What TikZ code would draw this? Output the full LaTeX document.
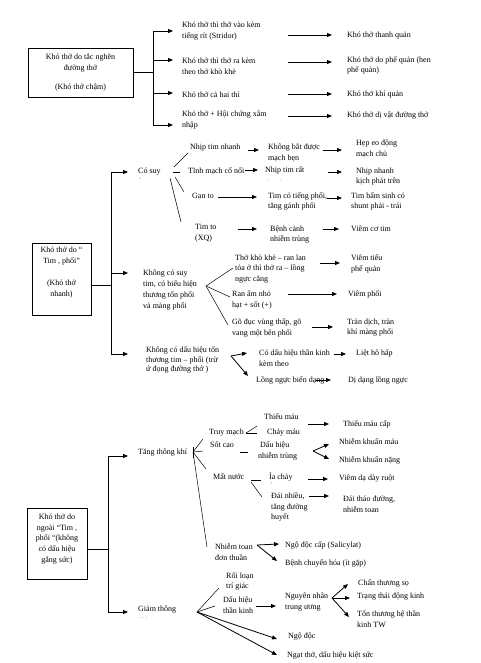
\documentclass[tikz,border=0pt]{standalone}
\usepackage{fontspec}
\setmainfont{Liberation Serif}
\usetikzlibrary{arrows.meta}
\newcommand\fsz{\fontsize{8}{10.8}\selectfont}
\tikzset{
 txt/.style={anchor=west, align=left, inner sep=0pt, font=\fsz},
 boxtxt/.style={align=center, inner sep=0pt, font=\fsz},
 box/.style={draw, line width=0.8pt, inner sep=0pt, align=center, font=\fsz},
 ln/.style={line width=0.5pt},
 arr/.style={line width=0.8pt, -{Triangle[length=5pt,width=4pt]}},
 tinytxt/.style={inner sep=0pt, font=\fontsize{5}{5}\selectfont},
}
\begin{document}
\begin{tikzpicture}[x=1pt,y=-1pt]
\fill[white] (0,0) rectangle (480,663);
\useasboundingbox (0,0) rectangle (480,663);

% ---------------- Section 1
\node[box, minimum width=105pt, minimum height=49pt] (b1) at (80.5,72.5) {Khó thở do tắc nghẽn\\đường thở\\[9pt](Khó thở chậm)};
\node[txt] (c11) at (182,31) {Khó thở thì thở vào kèm\\tiếng rít (Stridor)};
\node[txt] (c12) at (182,66) {Khó thở thì thở ra kèm\\theo thở khò khè};
\node[txt] (c13) at (182,95) {Khó thở cả hai thì};
\node[txt] (c14) at (182,120) {Khó thở + Hội chứng xâm\\nhập};
\node[txt] (r11) at (347,36) {Khó thở thanh quản};
\node[txt] (r12) at (347,65.5) {Khó thở do phế quản (hen\\phế quản)};
\node[txt] (r13) at (347,95) {Khó thở khí quản};
\node[txt] (r14) at (347,116) {Khó thở dị vật đường thở};

\draw[arr] (b1.east) -- ++(20,0) |- ([shift={(-9,0)}]c11.west);
\draw[arr] (b1.east) -- ++(20,0) |- ([shift={(-9,-6)}]c12.west);
\draw[arr] (b1.east) -- ++(20,0) |- ([shift={(-9,-2)}]c13.west);
\draw[arr] (b1.east) -- ++(20,0) |- ([shift={(-9,5)}]c14.west);
\draw[arr] ([shift={(-59,-1)}]r11.west) -- ([shift={(-15,-1)}]r11.west);
\draw[arr] ([shift={(-59,-3.5)}]r12.west) -- ([shift={(-15,-3.5)}]r12.west);
\draw[arr] ([shift={(-59,-1)}]r13.west) -- ([shift={(-15,-1)}]r13.west);
\draw[arr] ([shift={(-59,0)}]r14.west) -- ([shift={(-15,0)}]r14.west);

% ---------------- Section 2
\node[box, minimum width=59pt, minimum height=72pt] (b2) at (61.5,279) {};
\node[boxtxt] (b2t) at (61.5,272.5) {Khó thở do “\\Tim , phổi”\\[12pt](Khó thở\\nhanh)};

\node[txt] (cs) at (138,172) {Có suy};
\node[tinytxt] (csd) at (140,179) {,};
\node[txt] (n1) at (190,148) {Nhịp tim nhanh};
\node[txt] (n2) at (188,171) {Tĩnh mạch cổ nổi};
\node[txt] (n3) at (192,196) {Gan to};
\node[txt] (n4) at (195,233) {Tim to\\(XQ)};
\node[txt] (m1) at (268,152.5) {Không bắt được\\mạch bẹn};
\node[txt] (m2) at (265,170) {Nhịp tim rất};
\node[tinytxt] (m2d) at (274.5,180) {.\hspace{10pt}.};
\node[txt] (m3) at (268,201.5) {Tim có tiếng phổi,\\tăng gánh phổi};
\node[txt] (m4) at (270,234.5) {Bệnh cảnh\\nhiễm trùng};
\node[txt] (h1) at (356,149) {Hẹp eo động\\mạch chủ};
\node[txt] (h2) at (356,176.5) {Nhịp nhanh\\kịch phát trên};
\node[txt] (h3) at (351,201.5) {Tim bẩm sinh có\\shunt phải - trái};
\node[txt] (h4) at (351,229) {Viêm cơ tim};

\node[txt] (ks) at (143,290) {Không có suy\\tim, có biểu hiện\\thương tổn phổi\\và màng phổi};
\node[txt] (k1) at (235,269) {Thở khò khè – ran lan\\tỏa ở thì thở ra – lồng\\ngực căng};
\node[txt] (k2) at (232,300) {Ran ẩm nhỏ\\hạt + sốt (+)};
\node[txt] (k3) at (232,328) {Gõ đục vùng thấp, gõ\\vang một bên phổi};
\node[txt] (v1) at (351,264) {Viêm tiểu\\phế quản};
\node[txt] (v2) at (348,294) {Viêm phổi};
\node[txt] (v3) at (347,327.5) {Tràn dịch, tràn\\khí màng phổi};

\node[txt, font=\fontsize{8}{9.3}\selectfont] (kd) at (146,360) {Không có dấu hiệu tổn\\thương tim – phổi (trừ\\ứ đọng đường thở )};
\node[txt] (d1) at (259,358.5) {Có dấu hiệu thần kinh\\kèm theo};
\node[txt] (d2) at (256,380) {Lồng ngực biến dạng};
\node[txt] (l1) at (356,353) {Liệt hô hấp};
\node[txt] (l2) at (348,380) {Dị dạng lồng ngực};

\draw[arr] ([shift={(0,6)}]b2.east) -- ++(20,0) |- ([shift={(-10,0)}]cs.west);
\draw[arr] ([shift={(0,6)}]b2.east) -- ++(20,0) |- ([shift={(-15,-17)}]ks.west);
\draw[arr] ([shift={(0,6)}]b2.east) -- ++(20,0) |- ([shift={(-18,-6)}]kd.west);

\draw[ln] ([shift={(36,-5)}]cs.west) -- ([shift={(-2,5)}]n1.west);
\draw[ln] ([shift={(35,0)}]cs.west) -- ([shift={(-8,1)}]n2.west);
\draw[ln] ([shift={(37,5)}]cs.west) -- ([shift={(-8,-4)}]n3.west);
\draw[ln] ([shift={(32,6)}]cs.west) -- ([shift={(-14,-11)}]n4.west);

\draw[arr] ([shift={(-20,-2.5)}]m1.west) -- ([shift={(-9,-2.5)}]m1.west);
\draw[arr] ([shift={(-33,1)}]h1.west) -- ([shift={(-14,1)}]h1.west);
\draw[arr] ([shift={(-20,0)}]m2.west) -- ([shift={(-7,0)}]m2.west);
\draw[arr] ([shift={(-28,-4.5)}]h2.west) -- ([shift={(-14,-4.5)}]h2.west);
\draw[arr] ([shift={(-50,-4.5)}]m3.west) -- ([shift={(-11,-4.5)}]m3.west);
\draw[arr] ([shift={(-24,-3.5)}]h3.west) -- ([shift={(-9,-3.5)}]h3.west);
\draw[arr] ([shift={(-32,-5.5)}]m4.west) -- ([shift={(-13,-5.5)}]m4.west);
\draw[arr] ([shift={(-28,0)}]h4.west) -- ([shift={(-12,0)}]h4.west);

\draw[ln] ([shift={(63,-4)}]ks.west) -- ([shift={(-2,-1)}]k1.west);
\draw[ln] ([shift={(63,-4)}]ks.west) -- ([shift={(-2,-3)}]k2.west);
\draw[ln] ([shift={(63,-4)}]ks.west) -- ([shift={(-4,-3)}]k3.west);
\draw[arr] ([shift={(-31,-1)}]v1.west) -- ([shift={(-11,-1)}]v1.west);
\draw[arr] ([shift={(-60,0)}]v2.west) -- ([shift={(-11,0)}]v2.west);
\draw[arr] ([shift={(-35,-0.5)}]v3.west) -- ([shift={(-14,-0.5)}]v3.west);

\draw[arr] ([shift={(85,-4)}]kd.west) -- ([shift={(-12,-5.5)}]d1.west);
\draw[arr] ([shift={(85,-4)}]kd.west) -- ([shift={(-8,-4)}]d2.west);
\draw[arr] ([shift={(-22,1)}]l1.west) -- ([shift={(-10,1)}]l1.west);
\draw[arr] ([shift={(-32,0)}]l2.west) -- ([shift={(-17,0)}]l2.west);

% ---------------- Section 3
\node[box, minimum width=60pt, minimum height=71pt] (b3) at (57,543.5) {};
\node[boxtxt] (b3t) at (57,539) {Khó thở do\\ngoài “Tim ,\\phổi “(không\\có dấu hiệu\\gắng sức)};

\node[txt] (tk) at (138,453) {Tăng thông khí};
\node[txt] (tm) at (209,433) {Truy mạch};
\node[txt] (sc) at (210,445) {Sốt cao};
\node[txt] (mn) at (213,477) {Mất nước};
\node[txt] (nt) at (215,552) {Nhiễm toan\\đơn thuần};
\node[txt] (tm1) at (264,417) {Thiếu máu};
\node[txt] (tm2) at (267,433) {Chảy máu};
\node[txt] (tmc) at (343,424) {Thiếu máu cấp};
\node[txt] (dh) at (258,451) {\hspace{2pt}Dấu hiệu\\nhiễm trùng};
\node[txt] (nk1) at (339,442) {Nhiễm khuẩn máu};
\node[txt] (nk2) at (339,460) {Nhiễm khuẩn nặng};
\node[txt] (ic) at (269,477) {Ỉa chảy};
\node[tinytxt] (icd) at (272,484) {,};
\node[txt] (dn) at (271,507) {Đái nhiều,\\tăng đường\\huyết};
\node[txt] (vd) at (339,479) {Viêm dạ dày ruột};
\node[txt] (dt) at (343,504.5) {Đái tháo đường,\\nhiễm toan};
\node[txt] (nd1) at (285,545) {Ngộ độc cấp (Salicylat)};
\node[txt] (nd2) at (285,563) {Bệnh chuyển hóa (ít gặp)};

\node[txt] (gt) at (138,610) {Giảm thông};
\node[tinytxt] (gtd) at (143,618) {.\hspace{2.5pt}.\hspace{2.5pt}.};
\node[txt] (rl) at (226,581.5) {Rối loạn\\trí giác};
\node[txt] (dh2) at (223,605) {Dấu hiệu\\thần kinh};
\node[txt] (nn) at (285,602) {Nguyên nhân\\trung ương};
\node[txt] (cs1) at (358,583) {Chấn thương sọ};
\node[txt] (cs2) at (357,597) {Trạng thái động kinh};
\node[txt] (cs3) at (357,619.5) {Tổn thương hệ thần\\kinh TW};
\node[txt] (ndoc) at (288,637) {Ngộ độc};
\node[txt] (ngat) at (287,655) {Ngạt thở, dấu hiệu kiệt sức};

\draw[arr] ([shift={(0,5.5)}]b3.east) -- ++(21,0) |- ([shift={(-10,3)}]tk.west);
\draw[arr] ([shift={(0,5.5)}]b3.east) -- ++(21,0) |- ([shift={(-10,2)}]gt.west);

\draw[ln] ([shift={(55,-6)}]tk.west) -- ([shift={(55,5)}]tk.west);
\draw[ln] ([shift={(55,-1)}]tk.west) -- ([shift={(-6,6)}]tm.west);
\draw[ln] ([shift={(55,-1)}]tk.west) -- ([shift={(-7,6)}]sc.west);
\draw[ln] ([shift={(55,-1)}]tk.west) -- ([shift={(-7,-8)}]mn.west);
\draw[ln] ([shift={(55,-1)}]tk.west) -- ([shift={(-8,-5)}]nt.west);

\draw[ln] ([shift={(37,0)}]tm.west) -- ([shift={(-7,9)}]tm1.west);
\draw[ln] ([shift={(37,0)}]tm.west) -- ([shift={(-10,0)}]tm2.west);
\draw[arr] ([shift={(-35,0)}]tmc.west) -- ([shift={(-14,0)}]tmc.west);
\draw[ln] ([shift={(30,7)}]sc.west) -- ([shift={(-10,1)}]dh.west);
\draw[arr] ([shift={(55,0)}]dh.west) -- ([shift={(-10,2)}]nk1.west);
\draw[arr] ([shift={(55,0)}]dh.west) -- ([shift={(-10,-1)}]nk2.west);
\draw[ln] ([shift={(38,3)}]mn.west) -- ([shift={(-8,3)}]ic.west);
\draw[ln] ([shift={(38,5)}]mn.west) -- ([shift={(-9,-10)}]dn.west);
\draw[arr] ([shift={(-31,0)}]vd.west) -- ([shift={(-11,0)}]vd.west);
\draw[arr] ([shift={(-34,-8.5)}]dt.west) -- ([shift={(-14,-8.5)}]dt.west);
\draw[arr] ([shift={(42,-7)}]nt.west) -- ([shift={(-6,-1)}]nd1.west);
\draw[arr] ([shift={(42,-7)}]nt.west) -- ([shift={(-8,-2)}]nd2.west);

\draw[ln] ([shift={(59,2)}]gt.west) -- ([shift={(-7,6.5)}]rl.west);
\draw[ln] ([shift={(59,2)}]gt.west) -- ([shift={(-8,1)}]dh2.west);
\draw[arr] ([shift={(59,2)}]gt.west) -- ([shift={(-11,2)}]ndoc.west);
\draw[arr] ([shift={(59,2)}]gt.west) -- ([shift={(-10,0)}]ngat.west);
\draw[arr] ([shift={(-29,4)}]nn.west) -- ([shift={(-9,4)}]nn.west);
\draw[arr] ([shift={(47,-4)}]nn.west) -- ([shift={(-10,1)}]cs1.west);
\draw[arr] ([shift={(47,-4)}]nn.west) -- ([shift={(-7,1)}]cs2.west);
\draw[arr] ([shift={(47,-4)}]nn.west) -- ([shift={(-8,-2.5)}]cs3.west);
\end{tikzpicture}
\end{document}
